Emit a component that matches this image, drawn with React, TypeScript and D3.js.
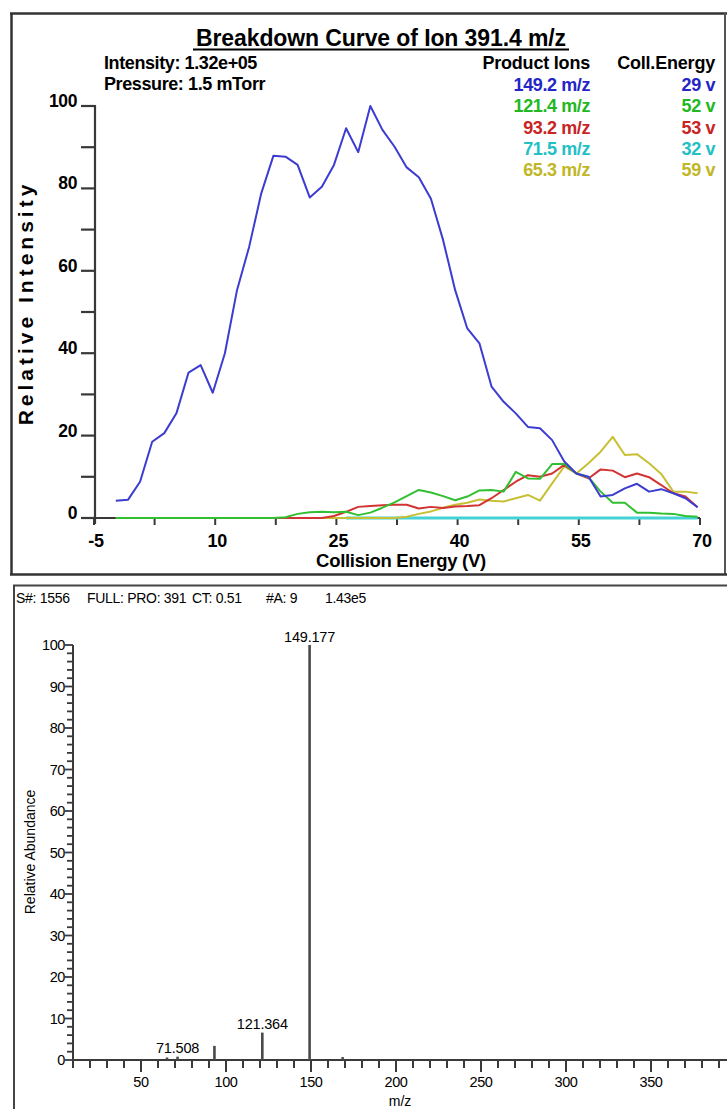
import * as d3 from "d3";

// collision energy steps of the breakdown scan (V)
const energies = [
  -2.3, -0.8, 0.7, 2.2, 3.7, 5.2, 6.7, 8.2, 9.7, 11.2, 12.7, 14.2, 15.7, 17.2,
  18.7, 20.2, 21.7, 23.2, 24.7, 26.2, 27.7, 29.2, 30.7, 32.2, 33.7, 35.2, 36.7,
  38.2, 39.7, 41.2, 42.7, 44.2, 45.7, 47.2, 48.7, 50.2, 51.7, 53.2, 54.7, 56.2,
  57.7, 59.2, 60.7, 62.2, 63.7, 65.2, 66.7, 68.2, 69.7,
];

const ion149 = [
  4.2, 4.4, 8.8, 18.5, 20.6, 25.4, 35.3, 37.1, 30.4, 40, 55.3, 65.8, 78.8, 87.9,
  87.7, 85.7, 77.8, 80.4, 85.7, 94.6, 88.8, 100, 94.2, 90.1, 85.1, 82.7, 77.5,
  67.5, 55.3, 46, 42.4, 31.9, 28.2, 25.4, 22.1, 21.8, 18.9, 13.7, 10.8, 10, 5.2,
  5.6, 7.2, 8.3, 6.4, 7, 6, 4.8, 2.6,
];
const ion121 = [
  0, 0, 0, 0, 0, 0, 0, 0, 0, 0, 0, 0, 0, 0, 0.2, 1, 1.4, 1.5, 1.4, 1.5, 0.7, 1.3,
  2.5, 3.8, 5.3, 6.8, 6.2, 5.3, 4.3, 5.2, 6.7, 6.8, 6.4, 11.2, 9.6, 9.5, 13.1,
  13.1, 10.8, 9.9, 6.4, 3.7, 3.7, 1.3, 1.3, 1.1, 1, 0.5, 0.3,
];
const ion93 = [
  0, 0, 0, 0, 0, 0, 0, 0, 0, 0, 0, 0, 0, 0, 0, 0, 0, 0, 0.5, 1.5, 2.7, 2.9, 3.1,
  3.2, 3.2, 2.3, 2.7, 2.4, 2.8, 2.9, 3.1, 4.8, 6.8, 8.8, 10.4, 10, 10.8, 12.9,
  10.8, 9.6, 11.8, 11.5, 9.9, 10.8, 9.9, 8, 6, 5.2, 2.6,
];
const ion71 = [
  null, null, null, null, null, null, null, null, null, null, null, null, null,
  null, null, null, null, null, null, 0, 0, 0, 0, 0, 0, 0, 0, 0, 0, 0, 0, 0, 0,
  0, 0, 0, 0, 0, 0, 0, 0, 0, 0, 0, 0, 0, 0, 0, 0,
];
const ion65 = [
  0, 0, 0, 0, 0, 0, 0, 0, 0, 0, 0, 0, 0, 0, 0, 0, 0, 0, 0, 0, 0, 0, 0, 0, 0.3, 1,
  1.6, 2.5, 3.2, 3.7, 4.5, 4.2, 4, 4.8, 5.6, 4.2, 8.4, 12.5, 10.8, 13.3, 16.1,
  19.7, 15.3, 15.5, 13.3, 10.7, 6.4, 6.4, 6,
];

const productIons = ["149.2 m/z", "121.4 m/z", "93.2 m/z", "71.5 m/z", "65.3 m/z"];
const collEnergies = ["29 v", "52 v", "53 v", "32 v", "59 v"];
const textColors = ["#2424c8", "#22b822", "#c82424", "#22c0c6", "#c0b626"];
const lineColors = ["#3c3cd2", "#32c032", "#d23434", "#44d2d8", "#c8c034"];

const energyTicks = [-5, 2.5, 10, 17.5, 25, 32.5, 40, 47.5, 55, 62.5, 70];
const energyLabels = [-5, 10, 25, 40, 55, 70];
const intensityTicks = [0, 10, 20, 30, 40, 50, 60, 70, 80, 90, 100];
const intensityLabels = [0, 20, 40, 60, 80, 100];

// product ion spectrum
const peakMz = [65.3, 71.508, 93.2, 121.364, 149.177, 168.6];
const peakAbundance = [0.6, 0.8, 3.4, 6.6, 100, 0.7];
const peakLabels = [null, "71.508", null, "121.364", "149.177", null];
const mzLabels = [50, 100, 150, 200, 250, 300, 350];
const abundanceLabels = [0, 10, 20, 30, 40, 50, 60, 70, 80, 90, 100];
const scanHeader = ["S#: 1556", "FULL: PRO: 391", "CT: 0.51", "#A: 9", "1.43e5"];
const scanHeaderX = [16, 87, 192, 266, 325];

const font = "'Liberation Sans', Arial, sans-serif";

function BreakdownPanel() {
  const x = d3.scaleLinear().domain([-5, 70]).range([94, 700]);
  const y = d3.scaleLinear().domain([0, 100]).range([518, 106]);
  const series = [ion149, ion121, ion93, ion71, ion65];
  const order = [3, 4, 2, 1, 0];
  const line = d3
    .line<number | null>()
    .defined((d) => d != null)
    .x((d, i) => x(energies[i]))
    .y((d) => y(d as number));
  const axisCol = "#383838";

  return (
    <g fontFamily={font}>
      {/* frame */}
      <line x1={10} x2={727} y1={13.5} y2={13.5} stroke="#333" strokeWidth={2.5} />
      <line x1={11.5} x2={11.5} y1={13} y2={575} stroke="#333" strokeWidth={2.5} />
      <line x1={725} x2={725} y1={13} y2={575} stroke="#555" strokeWidth={2} />
      <line x1={10} x2={727} y1={574.5} y2={574.5} stroke="#333" strokeWidth={2.5} />

      <text x={381} y={46} textAnchor="middle" fontSize={23} fontWeight="bold" letterSpacing={-0.1}>
        Breakdown Curve of Ion 391.4 m/z
      </text>
      <line x1={193} x2={569} y1={49.5} y2={49.5} stroke="#000" strokeWidth={2} />

      <text x={104} y={69} fontSize={18} fontWeight="bold" letterSpacing={-0.4}>
        Intensity: 1.32e+05
      </text>
      <text x={104} y={90} fontSize={18} fontWeight="bold" letterSpacing={-0.4}>
        Pressure: 1.5 mTorr
      </text>
      <text x={590} y={69} textAnchor="end" fontSize={18} fontWeight="bold" letterSpacing={-0.2}>
        Product Ions
      </text>
      <text x={715} y={69} textAnchor="end" fontSize={18} fontWeight="bold" letterSpacing={-0.2}>
        Coll.Energy
      </text>
      {productIons.map((p, i) => (
        <g key={p} fontSize={18} fontWeight="bold" letterSpacing={-0.4} fill={textColors[i]}>
          <text x={590} y={91 + i * 21.3} textAnchor="end">
            {p}
          </text>
          <text x={715} y={91 + i * 21.3} textAnchor="end">
            {collEnergies[i]}
          </text>
        </g>
      ))}

      {/* y axis */}
      <line x1={95} x2={95} y1={y(100) - 1} y2={524} stroke={axisCol} strokeWidth={2.2} />
      {intensityTicks.map((t) => (
        <line key={t} x1={81} x2={95} y1={y(t)} y2={y(t)} stroke={axisCol} strokeWidth={2.2} />
      ))}
      {intensityLabels.map((t) => (
        <text key={t} x={77} y={y(t) + 1} textAnchor="end" fontSize={17.5} fontWeight="bold" letterSpacing={-0.4}>
          {t}
        </text>
      ))}
      <text
        transform={`translate(33,303) rotate(-90)`}
        textAnchor="middle"
        fontSize={21}
        fontWeight="bold"
        letterSpacing={4}
      >
        Relative Intensity
      </text>

      {/* x axis */}
      <line x1={82} x2={700} y1={518} y2={518} stroke={axisCol} strokeWidth={2.2} />
      {energyTicks.map((t) => (
        <line key={t} x1={x(t)} x2={x(t)} y1={518} y2={525} stroke={axisCol} strokeWidth={2} />
      ))}
      {energyLabels.map((t) => (
        <text key={t} x={x(t) + 2} y={547} textAnchor="middle" fontSize={18} fontWeight="bold" letterSpacing={-0.2}>
          {t}
        </text>
      ))}
      <text x={401} y={567} textAnchor="middle" fontSize={18.5} fontWeight="bold" letterSpacing={-0.3}>
        Collision Energy (V)
      </text>

      {order.map((k) => (
        <path
          key={k}
          d={line(series[k] as (number | null)[]) || ""}
          fill="none"
          stroke={lineColors[k]}
          strokeWidth={k === 3 ? 3.2 : 2}
          strokeLinejoin="round"
        />
      ))}
    </g>
  );
}

function SpectrumPanel() {
  const x = d3.scaleLinear().domain([10, 400]).range([73, 736]);
  const y = d3.scaleLinear().domain([0, 100]).range([1060, 645]);
  const col = "#3a3a3a";
  const minorX = d3.range(10, 401, 10);
  const minorY = d3.range(0, 101, 2);

  return (
    <g fontFamily={font}>
      <line x1={13} x2={727} y1={585.5} y2={585.5} stroke="#444" strokeWidth={2} />
      <line x1={14} x2={14} y1={585} y2={1109} stroke="#444" strokeWidth={2} />

      {scanHeader.map((s, i) => (
        <text key={s} x={scanHeaderX[i]} y={603} fontSize={14} letterSpacing={-0.3}>
          {s}
        </text>
      ))}

      {/* y axis */}
      <line x1={73} x2={73} y1={y(100)} y2={y(0)} stroke={col} strokeWidth={2} />
      {minorY.map((t) => (
        <line
          key={t}
          x1={t % 10 === 0 ? 65 : 67}
          x2={73}
          y1={y(t)}
          y2={y(t)}
          stroke={col}
          strokeWidth={1.8}
        />
      ))}
      {abundanceLabels.map((t) => (
        <text key={t} x={65} y={y(t) + 5} textAnchor="end" fontSize={14.5} letterSpacing={-0.4}>
          {t}
        </text>
      ))}
      <text transform="translate(35,852) rotate(-90)" textAnchor="middle" fontSize={14}>
        Relative Abundance
      </text>

      {/* x axis */}
      <line x1={73} x2={727} y1={1060} y2={1060} stroke={col} strokeWidth={2} />
      {minorX.map((t) => (
        <line
          key={t}
          x1={x(t)}
          x2={x(t)}
          y1={1060}
          y2={t % 50 === 0 ? 1072 : 1068}
          stroke={col}
          strokeWidth={2}
        />
      ))}
      {mzLabels.map((t) => (
        <text key={t} x={x(t)} y={1087} textAnchor="middle" fontSize={14.5} letterSpacing={-0.4}>
          {t}
        </text>
      ))}
      <text x={400} y={1106} textAnchor="middle" fontSize={14}>
        m/z
      </text>

      {peakMz.map((m, i) => (
        <line
          key={m}
          x1={x(m)}
          x2={x(m)}
          y1={y(0)}
          y2={y(peakAbundance[i])}
          stroke="#4a4a4a"
          strokeWidth={2.6}
        />
      ))}
      {peakMz.map((m, i) =>
        peakLabels[i] ? (
          <text
            key={m}
            x={x(m)}
            y={y(peakAbundance[i]) - 3.5}
            textAnchor="middle"
            fontSize={14.5}
            letterSpacing={-0.2}
          >
            {peakLabels[i]}
          </text>
        ) : null
      )}
    </g>
  );
}

export default function App() {
  return (
    <svg
      width={727}
      height={1109}
      viewBox="0 0 727 1109"
      style={{ position: "absolute", left: 0, top: 0, background: "#fff" }}
    >
      <rect width={727} height={1109} fill="#fff" />
      <BreakdownPanel />
      <SpectrumPanel />
    </svg>
  );
}
